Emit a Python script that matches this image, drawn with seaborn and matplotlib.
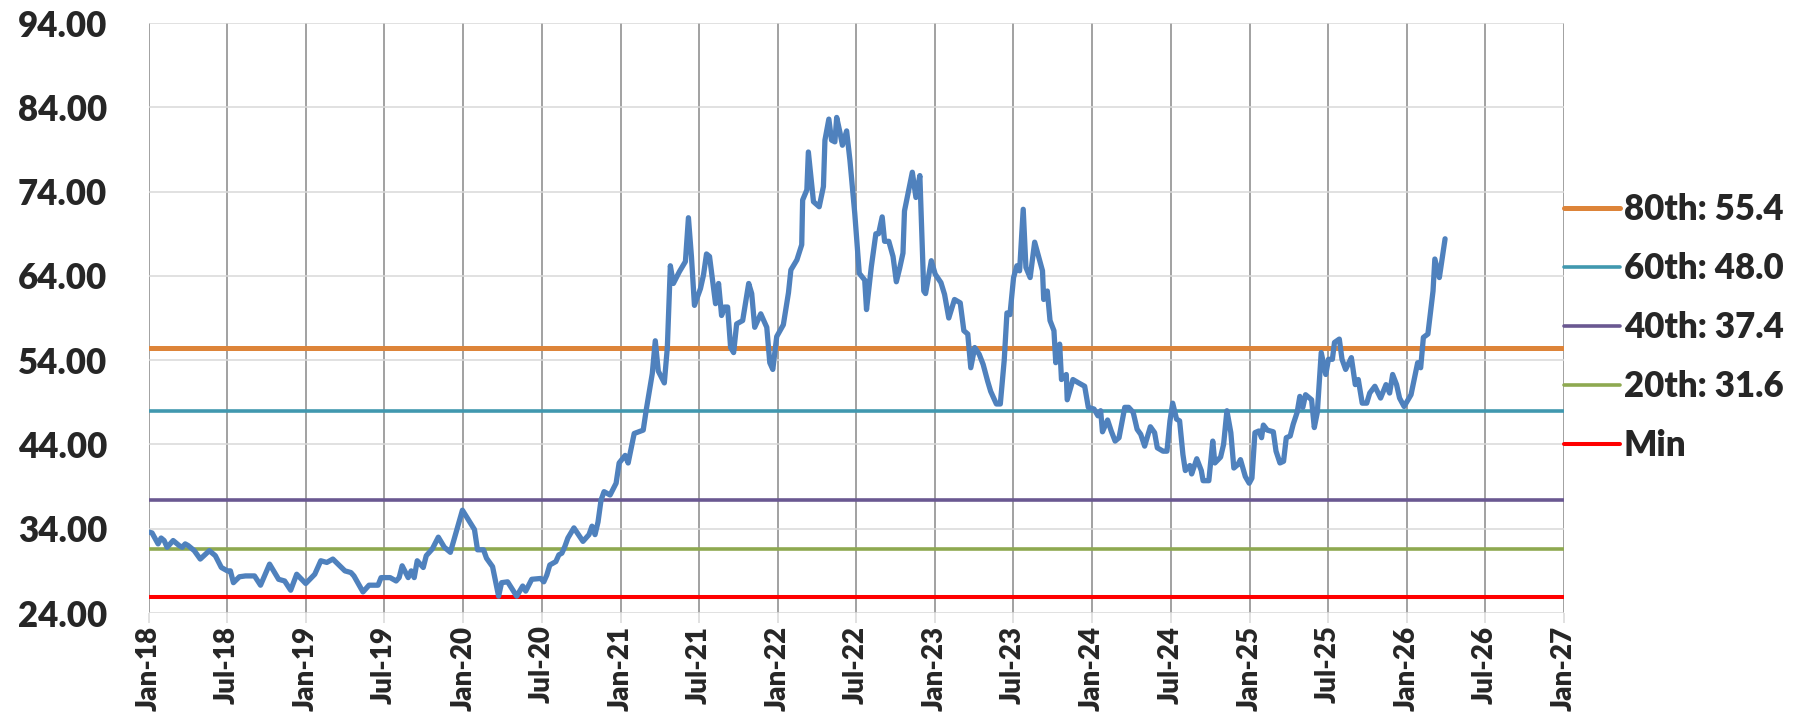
import numpy as np
import pandas as pd
import seaborn as sns
import matplotlib.pyplot as plt
import matplotlib.dates as mdates

# weekly series, x = weeks since 2018-01-01 (at the turning points)
weeks = [0, 1, 3, 4, 5, 6, 8, 10, 11, 12, 13, 15, 17, 20, 22, 24, 26, 27, 28, 30,
         32, 35, 37, 40, 43, 45, 47, 49, 52, 55, 57, 59, 61, 65, 67, 68, 71, 73, 76, 77,
         80, 82, 83, 84, 86, 87, 88, 89, 91, 92, 94, 96, 98, 100, 104, 108, 109, 111, 112, 114,
         116, 117, 119, 122, 124, 125, 127, 130, 131, 132, 133, 135, 136, 137, 138, 139, 141, 144, 146, 147,
         148, 149, 150, 151, 153, 155, 156, 158, 159, 161, 164, 165, 167, 168, 169, 171, 172, 173, 174, 176,
         178, 179, 180, 181, 183, 184, 185, 186, 188, 189, 190, 191, 192, 193, 194, 195, 197, 199, 200, 201,
         203, 205, 206, 207, 208.3, 210.5, 212.2, 213.0, 215.0, 216.6, 216.9, 218.3, 218.8, 220.5, 222.4, 223.8, 224.3, 225.6, 226.5, 227.6,
         228.2, 229.3, 230.1, 231.5, 232.6, 234.2, 235.7, 237.5, 238.1, 239.7, 241.2, 242.1, 243.3, 244.1, 245.5, 246.9, 248.0, 249.1, 250.2, 250.7,
         253.3, 254.5, 255.8, 257.1, 257.7, 259.6, 260.9, 262.8, 264.0, 265.4, 267.3, 269.2, 270.4, 271.7, 272.7, 274.0, 275.5, 276.8, 278.3, 279.3,
         281.2, 282.5, 283.8, 284.7, 285.7, 286.9, 288.0, 288.9, 290.1, 291.0, 292.4, 293.9, 296.5, 296.9, 298.1, 299.0, 300.3, 300.9, 302.2, 302.8,
         304.4, 304.7, 306.6, 308.5, 310.5, 311.7, 313.6, 314.9, 315.8, 316.4, 318.1, 319.3, 320.6, 321.9, 323.8, 325.1, 326.6, 327.9, 329.1, 330.4,
         332.3, 333.7, 334.6, 336.5, 337.8, 338.8, 339.7, 341.0, 342.0, 343.1, 343.9, 345.4, 346.0, 347.7, 349.2, 349.8, 351.7, 353.0, 353.7, 355.6,
         356.6, 357.7, 359.0, 360.0, 361.3, 362.2, 363.8, 365.1, 366.0, 367.0, 368.3, 369.2, 369.8, 371.1, 373.1, 374.0, 375.3, 376.5, 377.4, 378.7,
         379.7, 381.0, 381.9, 382.9, 383.8, 385.8, 386.7, 387.7, 389.0, 390.5, 391.4, 392.7, 393.4, 395.0, 395.9, 397.1, 399.0, 400.3, 401.3, 402.6,
         404.1, 405.1, 406.8, 408.7, 410.5, 411.7, 412.7, 414.0, 415.0, 416.5, 418.8, 421.0, 422.0, 422.9, 424.4, 426.1, 426.7, 428.2, 430.1]

price = [33.6, 33.5, 32.2, 32.9, 32.6, 31.8, 32.6, 32.0, 31.8, 32.2, 32.0, 31.4, 30.4, 31.4, 30.8, 29.4, 29.0, 29.0, 27.6, 28.3,
         28.4, 28.4, 27.3, 29.8, 28.0, 27.8, 26.7, 28.6, 27.5, 28.6, 30.2, 30.0, 30.4, 29.0, 28.8, 28.4, 26.5, 27.3, 27.3, 28.2,
         28.2, 27.8, 28.2, 29.6, 28.2, 29.0, 28.2, 30.2, 29.4, 30.8, 31.6, 33.0, 31.8, 31.2, 36.2, 33.9, 31.5, 31.5, 30.5, 29.5,
         26.0, 27.6, 27.7, 26.0, 27.2, 26.6, 28.0, 28.1, 27.7, 28.5, 29.7, 30.1, 30.9, 31.1, 31.9, 32.9, 34.1, 32.5, 33.3, 34.3,
         33.3, 34.8, 37.4, 38.4, 38.0, 39.4, 41.8, 42.7, 41.8, 45.3, 45.7, 48.1, 52.4, 56.3, 52.7, 51.3, 55.5, 65.2, 63.1, 64.5,
         65.7, 70.9, 66.3, 60.5, 62.5, 64.1, 66.6, 66.3, 60.7, 63.1, 59.3, 60.3, 60.3, 55.5, 54.9, 58.3, 58.7, 63.1, 61.9, 57.9,
         59.5, 57.9, 53.7, 52.9, 56.8, 58.2, 62.0, 64.7, 65.9, 67.7, 73.0, 74.2, 78.7, 72.8, 72.2, 74.6, 80.1, 82.6, 80.1, 79.9,
         82.8, 81.0, 79.5, 81.2, 77.7, 71.4, 64.3, 63.5, 60.0, 65.1, 69.0, 69.0, 71.0, 68.1, 68.1, 66.3, 63.3, 64.9, 66.7, 71.7,
         76.3, 73.3, 75.9, 62.2, 61.9, 65.8, 64.2, 63.2, 61.8, 59.0, 61.2, 60.8, 57.5, 57.1, 53.1, 55.5, 54.7, 53.5, 51.5, 50.3,
         48.8, 48.8, 54.0, 59.6, 59.4, 63.8, 65.2, 64.6, 71.9, 65.0, 63.8, 68.0, 64.6, 61.2, 62.2, 58.7, 57.5, 53.7, 55.9, 51.7,
         52.3, 49.3, 51.7, 51.3, 50.9, 48.4, 48.2, 47.4, 48.0, 45.5, 46.9, 45.6, 44.4, 44.8, 48.4, 48.4, 47.8, 45.8, 45.2, 43.8,
         46.1, 45.4, 43.6, 43.2, 43.2, 46.8, 48.9, 47.0, 46.8, 42.8, 40.9, 41.5, 40.5, 42.3, 40.9, 39.7, 39.7, 44.4, 41.8, 42.5,
         44.0, 48.0, 45.4, 41.2, 41.6, 42.2, 40.2, 39.4, 40.0, 45.4, 45.6, 44.8, 46.3, 45.7, 45.5, 43.2, 41.8, 42.0, 44.8, 45.0,
         46.4, 47.8, 49.7, 48.4, 49.9, 49.3, 46.0, 47.8, 54.9, 52.3, 54.1, 54.1, 56.1, 56.5, 54.1, 52.9, 54.3, 51.1, 51.7, 48.9,
         48.9, 50.1, 50.9, 49.5, 51.1, 50.1, 52.3, 51.1, 49.5, 48.5, 49.9, 53.7, 53.1, 56.7, 57.1, 62.2, 66.0, 63.8, 68.4]

pct_labels = ['80th: 55.4', '60th: 48.0', '40th: 37.4', '20th: 31.6', 'Min']
pct_values = [55.4, 48.0, 37.4, 31.6, 25.9]
pct_colors = ['#dd8439', '#4198af', '#6a5891', '#8ea950', '#ff0000']
pct_widths = [3.6, 2.6, 2.6, 2.6, 2.9]

y_ticks = [24, 34, 44, 54, 64, 74, 84, 94]


def main():
    sns.set_theme(style='white')
    plt.rcParams['font.family'] = ['Lato', 'DejaVu Sans']
    plt.rcParams['font.weight'] = 'heavy'

    dates = pd.Timestamp('2018-01-01') + pd.to_timedelta(np.array(weeks) * 7, unit='D')
    df = pd.DataFrame({'date': dates, 'price': price})

    fig = plt.figure(figsize=(18, 7.24), dpi=100)
    ax = fig.add_axes([0.0828, 0.1533, 0.7861, 0.8149])

    # percentile lines
    for lab, val, col, lw in zip(pct_labels, pct_values, pct_colors, pct_widths):
        ax.axhline(val, color=col, lw=lw, label=lab, zorder=2)

    sns.lineplot(data=df, x='date', y='price', ax=ax, color='#4f81bd', lw=3.8, zorder=3)

    ax.set_xlim(pd.Timestamp('2018-01-01'), pd.Timestamp('2027-01-01'))
    ax.set_ylim(24, 94)
    ax.set_yticks(y_ticks)
    ax.set_yticklabels([f'{v:.2f}' for v in y_ticks], fontsize=25, fontweight='heavy')

    ax.xaxis.set_major_locator(mdates.MonthLocator(bymonth=[1, 7]))
    ax.xaxis.set_major_formatter(mdates.DateFormatter('%b-%y'))
    plt.setp(ax.get_xticklabels(), rotation=90, fontsize=20, fontweight='heavy')

    ax.set_xlabel('')
    ax.set_ylabel('')
    for s in ax.spines.values():
        s.set_visible(False)

    ax.grid(axis='x', color='#878787', lw=1.1)
    ax.grid(axis='y', color='#d9d9d9', lw=1.1)
    ax.set_axisbelow(True)
    ax.tick_params(axis='x', length=7, width=1.1, color='#d9d9d9', pad=2, bottom=True)
    ax.tick_params(axis='y', length=0, pad=30)

    ax.legend(loc='upper left', bbox_to_anchor=(1.0, 0.712), frameon=False,
              borderpad=0, borderaxespad=0, handlelength=1.6, handletextpad=0.12,
              labelspacing=0.75, prop={'weight': 'heavy', 'size': 25})

    fig.savefig('out.png', dpi=100)


if __name__ == '__main__':
    main()
